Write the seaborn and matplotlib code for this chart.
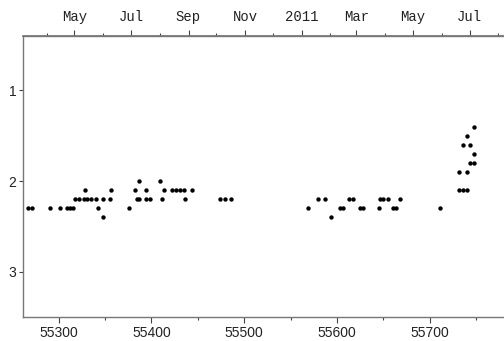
import datetime as dt
import matplotlib
matplotlib.use("Agg")
import matplotlib.pyplot as plt
from matplotlib.ticker import MultipleLocator, FixedLocator
import seaborn as sns
import pandas as pd

# Observation epochs (MJD) and the measured grade at each epoch
mjd = [
    55267, 55271, 55291, 55302, 55309, 55312, 55315, 55342, 55376,
    55569, 55603, 55607, 55625, 55628, 55645, 55660, 55664, 55711,
    55318, 55322, 55327, 55331, 55335, 55340, 55348, 55355, 55384,
    55387, 55394, 55399, 55411, 55436, 55474, 55479, 55486, 55580,
    55587, 55613, 55617, 55646, 55650, 55655, 55668,
    55328, 55356, 55382, 55394, 55414, 55422, 55427, 55431, 55435, 55444,
    55387, 55409,
    55348, 55594,
    55748, 55740, 55736, 55743, 55748, 55743, 55748, 55732, 55740,
    55731, 55736, 55740,
]
grade = [
    2.3, 2.3, 2.3, 2.3, 2.3, 2.3, 2.3, 2.3, 2.3,
    2.3, 2.3, 2.3, 2.3, 2.3, 2.3, 2.3, 2.3, 2.3,
    2.2, 2.2, 2.2, 2.2, 2.2, 2.2, 2.2, 2.2, 2.2,
    2.2, 2.2, 2.2, 2.2, 2.2, 2.2, 2.2, 2.2, 2.2,
    2.2, 2.2, 2.2, 2.2, 2.2, 2.2, 2.2,
    2.1, 2.1, 2.1, 2.1, 2.1, 2.1, 2.1, 2.1, 2.1, 2.1,
    2.0, 2.0,
    2.4, 2.4,
    1.4, 1.5, 1.6, 1.6, 1.7, 1.8, 1.8, 1.9, 1.9,
    2.1, 2.1, 2.1,
]

# Calendar axis: first day of each month, labelled every second month
month_starts = [(2010, m) for m in range(4, 13)] + [(2011, m) for m in range(1, 9)]
top_labels = ["May", "Jul", "Sep", "Nov", "2011", "Mar", "May", "Jul"]

x_range = (55262, 55780)
y_range = (3.5, 0.4)

df = pd.DataFrame({"mjd": mjd, "grade": grade})

sns.set_theme(style="ticks")
plt.rcParams["font.family"] = ["Liberation Sans", "DejaVu Sans"]

fig = plt.figure(figsize=(5.04, 3.41), dpi=100)
ax = fig.add_axes([0.0463, 0.0704, 0.9537, 0.8240])

sns.scatterplot(data=df, x="mjd", y="grade", ax=ax, color="black",
                s=10, linewidth=0, legend=False, clip_on=False)

ax.set_xlim(*x_range)
ax.set_ylim(*y_range)
ax.set_xlabel("")
ax.set_ylabel("")

spine_color = "#777777"
for side in ("left", "bottom", "top"):
    ax.spines[side].set_color(spine_color)
    ax.spines[side].set_linewidth(1.0)
ax.spines["right"].set_visible(False)

ax.xaxis.set_major_locator(MultipleLocator(100))
ax.xaxis.set_minor_locator(MultipleLocator(50))
ax.yaxis.set_major_locator(FixedLocator([1, 2, 3]))
ax.set_yticklabels(["1", "2", "3"])
ax.tick_params(axis="x", which="major", direction="out", length=4, width=0.8,
               color="#444444", pad=2.5, labelsize=10, labelcolor="#222222")
ax.tick_params(axis="x", which="minor", direction="out", length=2, width=0.8,
               color="#444444")
ax.tick_params(axis="y", which="major", direction="out", length=3, width=0.8,
               color="#444444", pad=2, labelsize=10, labelcolor="#222222")
ax.tick_params(top=False, right=False)

# Top axis in calendar months
epoch = dt.date(1858, 11, 17)
month_mjd = [(dt.date(y, m, 1) - epoch).days for y, m in month_starts]
major_mjd = month_mjd[1::2]

top = ax.twiny()
top.set_xlim(ax.get_xlim())
top.spines["right"].set_visible(False)
top.spines["left"].set_visible(False)
top.spines["bottom"].set_visible(False)
top.spines["top"].set_color(spine_color)
top.xaxis.set_major_locator(FixedLocator(major_mjd))
top.xaxis.set_minor_locator(FixedLocator(month_mjd))
top.set_xticklabels(top_labels, family=["Liberation Mono", "DejaVu Sans Mono"])
top.tick_params(axis="x", which="major", direction="out", length=4, width=0.8,
                color="#444444", pad=5, labelsize=10, labelcolor="#222222")
top.tick_params(axis="x", which="minor", direction="out", length=2, width=0.8,
                color="#444444")

fig.savefig("out.png", dpi=100)
